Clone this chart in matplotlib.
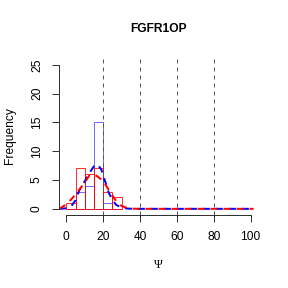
import matplotlib
matplotlib.use("Agg")
import matplotlib.pyplot as plt

# histogram counts, bins of width 5 starting at 0
bin_left = [0, 5, 10, 15, 20, 25]
blue_counts = [0, 3, 4, 15, 1, 0]
red_counts = [1, 7, 6, 7, 3, 2]

# smoothed density curves (scaled to counts)
blue_x = [-3.8, 0, 2.5, 5, 7, 10, 12, 15, 17, 19, 21, 23, 25, 27, 30, 33, 36, 101.6]
blue_y = [0, 0.1, 0.4, 1.5, 3.2, 4.8, 6.0, 7.4, 7.7, 6.8, 4.8, 2.8, 1.5, 0.7, 0.2, 0.05, 0, 0]
red_x = [-3.8, 0, 2.5, 5, 7, 10, 12.5, 15, 17, 20, 22, 24, 26, 28, 30, 33, 36, 40, 101.6]
red_y = [0, 0.8, 1.6, 2.5, 3.3, 4.6, 5.8, 6.0, 5.6, 4.8, 3.8, 2.8, 1.8, 1.0, 0.5, 0.15, 0.03, 0, 0]

vlines = [20, 40, 60, 80]

plt.rcParams['font.family'] = ['Liberation Sans', 'DejaVu Sans']
plt.rcParams['font.size'] = 12

fig = plt.figure(figsize=(4, 4), dpi=72)
ax = fig.add_axes([59/288, (288-214.6)/288, 199/288, 155.6/288])

for v in vlines:
    ax.axvline(v, color='#555555', lw=1, dashes=(4, 4))

ax.bar(bin_left, blue_counts, width=5, align='edge', fill=False,
       edgecolor='#3333ff', alpha=0.7, lw=1)
ax.bar(bin_left, red_counts, width=5, align='edge', fill=False,
       edgecolor='#ff0000', alpha=0.8, lw=1)

ax.plot(blue_x, blue_y, color='#0000ff', lw=2, dashes=(3.5, 3))
ax.plot(red_x, red_y, color='#ff0000', lw=2, dashes=(3.5, 3))

ax.set_xlim(-4, 104)
ax.set_ylim(-1, 26)
ax.set_xticks([0, 20, 40, 60, 80, 100])
ax.set_yticks([0, 5, 10, 15, 20, 25])
ax.set_yticklabels(['0', '5', '10', '15', '20', '25'], rotation=90, va='center')

for s in ['top', 'right']:
    ax.spines[s].set_visible(False)
ax.spines['left'].set_bounds(0, 25)
ax.spines['bottom'].set_bounds(0, 100)
for s in ['left', 'bottom']:
    ax.spines[s].set_linewidth(1)
    ax.spines[s].set_color('#333333')
ax.tick_params(length=7, width=1, color='#333333', pad=9, labelsize=12)

fig.text(158.5/288, 1-29/288, 'FGFR1OP', ha='center', va='center',
         fontsize=12, fontweight='bold')
fig.text(158.5/288, 1-265.5/288, 'Ψ', ha='center', va='center',
         fontsize=12, family=['Liberation Serif', 'DejaVu Serif'])
fig.text(10/288, 1-136/288, 'Frequency', ha='center', va='center',
         rotation=90, fontsize=12)

fig.savefig('out.png', dpi=72)
